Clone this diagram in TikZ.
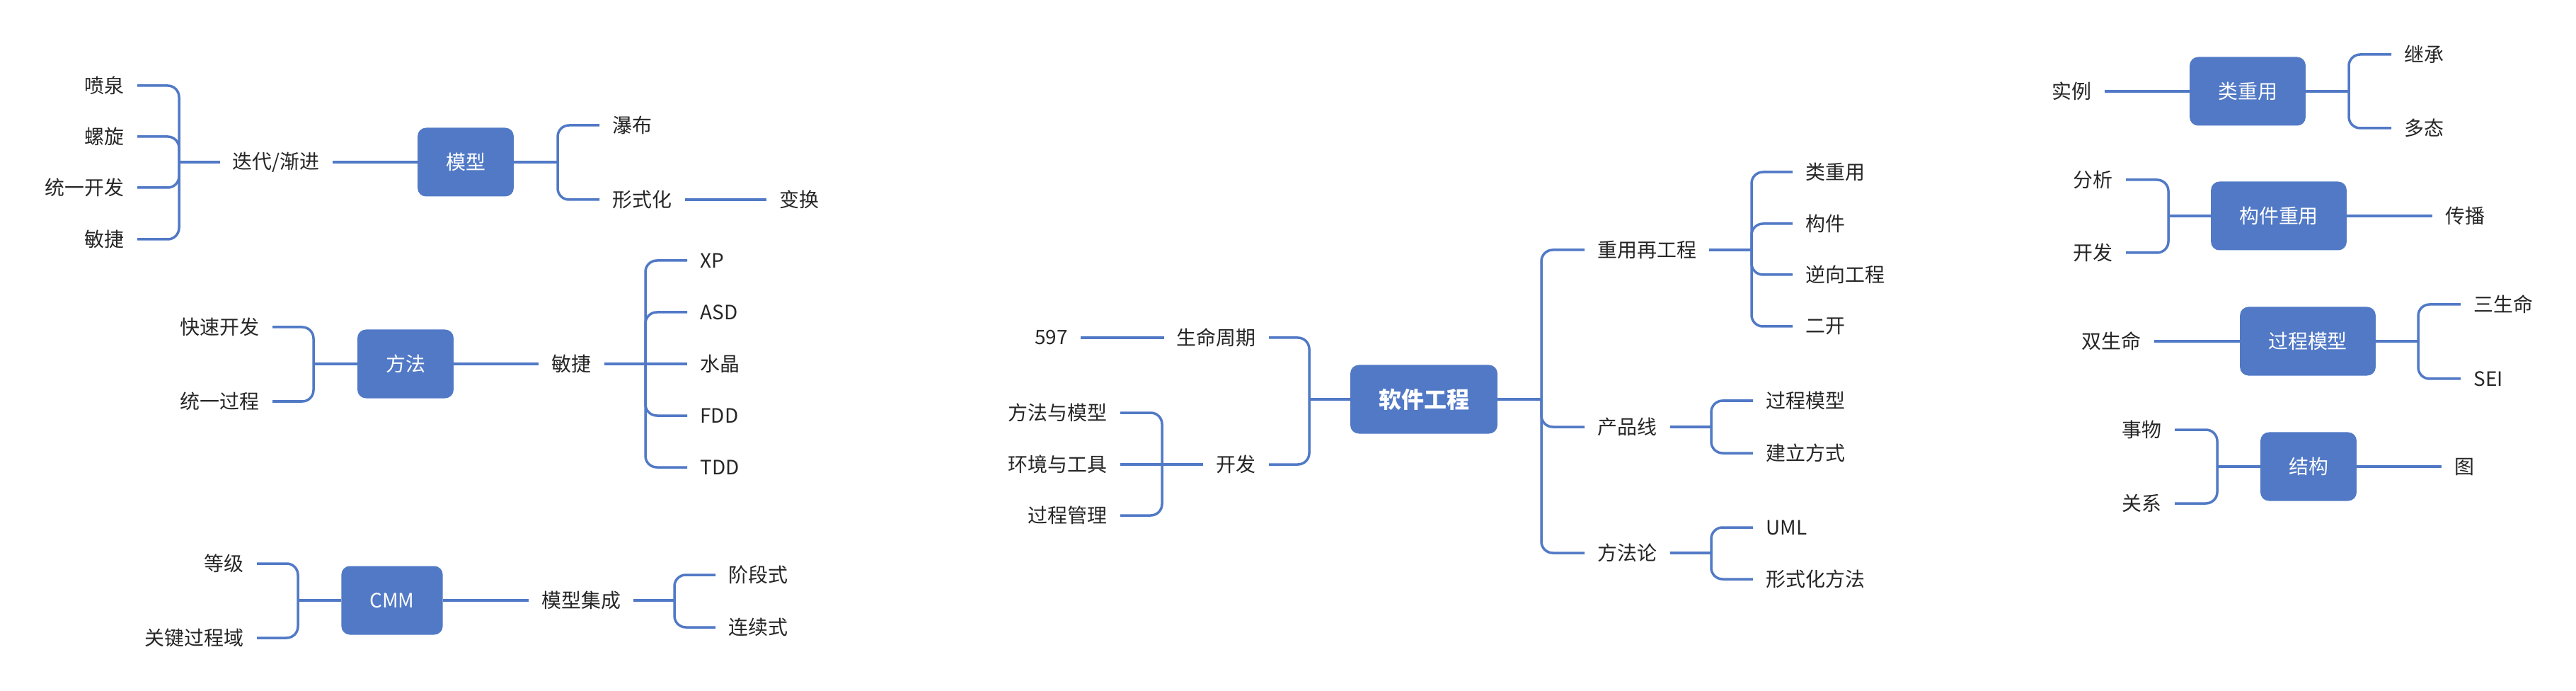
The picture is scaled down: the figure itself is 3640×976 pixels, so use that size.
\documentclass[tikz,border=0pt]{standalone}
\usepackage{fontspec}
\setmainfont{Noto Sans CJK SC}
\definecolor{mapblue}{HTML}{5179C6}
\definecolor{leaftext}{HTML}{262626}
\begin{document}
\begin{tikzpicture}
[x=0.2mm,y=-0.2mm,
box/.style={rectangle,rounded corners=2.4mm,fill=mapblue,text=white,minimum height=19.4mm,inner xsep=8mm,inner ysep=0pt,font=\fontsize{15.9pt}{18pt}\selectfont},
rootbox/.style={box,font=\fontsize{18.2pt}{20pt}\selectfont\bfseries},
plain/.style={draw=none,fill=none,text=leaftext,inner xsep=3.6mm,inner ysep=1mm,font=\fontsize{15.9pt}{18pt}\selectfont},
link/.style={draw=mapblue,line width=0.7mm},
branch/.style={link,rounded corners=3.2mm}
]
\useasboundingbox (0,0) rectangle (3640,976);

\node[rootbox] (root) at (2012,564) {软件工程};
\coordinate (rootr) at (2178,564);
\coordinate (rootl) at (1850,564);
\draw[link] (root.east) -- (rootr);
\draw[link] (root.west) -- (rootl);

\node[plain,anchor=west] (reuse) at (2239,353) {重用再工程};
\node[plain,anchor=west] (pline) at (2239,603) {产品线};
\node[plain,anchor=west] (methlog) at (2239,781) {方法论};
\draw[branch] (rootr) |- (reuse.west);
\draw[branch] (rootr) |- (pline.west);
\draw[branch] (rootr) |- (methlog.west);

\coordinate (reuser) at (2475,353);
\draw[link] (reuse.east) -- (reuser);
\node[plain,anchor=west] (clsreuse) at (2533,243) {类重用};
\node[plain,anchor=west] (comp) at (2533,316) {构件};
\node[plain,anchor=west] (reverse) at (2533,388) {逆向工程};
\node[plain,anchor=west] (second) at (2533,461) {二开};
\draw[branch] (reuser) |- (clsreuse.west);
\draw[branch] (reuser) |- (comp.west);
\draw[branch] (reuser) |- (reverse.west);
\draw[branch] (reuser) |- (second.west);

\coordinate (pliner) at (2418,603);
\draw[link] (pline.east) -- (pliner);
\node[plain,anchor=west] (procmodel) at (2477,566) {过程模型};
\node[plain,anchor=west] (buildway) at (2477,640) {建立方式};
\draw[branch] (pliner) |- (procmodel.west);
\draw[branch] (pliner) |- (buildway.west);

\coordinate (methlogr) at (2418,781);
\draw[link] (methlog.east) -- (methlogr);
\node[plain,anchor=west] (uml) at (2477,745) {UML};
\node[plain,anchor=west] (formal) at (2477,818) {形式化方法};
\draw[branch] (methlogr) |- (uml.west);
\draw[branch] (methlogr) |- (formal.west);

\node[plain,anchor=east] (life) at (1793,477) {生命周期};
\node[plain,anchor=east] (dev) at (1793,656) {开发};
\draw[branch] (rootl) |- (life.east);
\draw[branch] (rootl) |- (dev.east);
\node[plain,anchor=east] (n597) at (1527,477) {597};
\draw[link] (life.west) -- (n597.east);

\coordinate (devl) at (1642,656);
\draw[link] (dev.west) -- (devl);
\node[plain,anchor=east] (methmodel) at (1583,583) {方法与模型};
\node[plain,anchor=east] (envtool) at (1583,656) {环境与工具};
\node[plain,anchor=east] (procmgmt) at (1583,728) {过程管理};
\draw[branch] (devl) |- (methmodel.east);
\draw[link] (devl) -- (envtool.east);
\draw[branch] (devl) |- (procmgmt.east);

\node[box] (model) at (658,229) {模型};
\node[plain,anchor=east] (iter) at (470,229) {迭代/渐进};
\draw[link] (model.west) -- (iter.east);
\coordinate (iterl) at (253,229);
\draw[link] (iter.west) -- (iterl);
\node[plain,anchor=east] (fountain) at (194,121) {喷泉};
\node[plain,anchor=east] (spiral) at (194,193) {螺旋};
\node[plain,anchor=east] (unidev) at (194,265) {统一开发};
\node[plain,anchor=east] (agilem) at (194,338) {敏捷};
\draw[branch] (iterl) |- (fountain.east);
\draw[branch] (iterl) |- (spiral.east);
\draw[branch] (iterl) |- (unidev.east);
\draw[branch] (iterl) |- (agilem.east);

\coordinate (modelr) at (788,229);
\draw[link] (model.east) -- (modelr);
\node[plain,anchor=west] (waterfall) at (847,177) {瀑布};
\node[plain,anchor=west] (formalize) at (847,282) {形式化};
\draw[branch] (modelr) |- (waterfall.west);
\draw[branch] (modelr) |- (formalize.west);
\node[plain,anchor=west] (trans) at (1083,282) {变换};
\draw[link] (formalize.east) -- (trans.west);

\node[box] (method) at (573,514) {方法};
\coordinate (methodl) at (443,514);
\draw[link] (method.west) -- (methodl);
\node[plain,anchor=east] (rapid) at (385,462) {快速开发};
\node[plain,anchor=east] (unified) at (385,567) {统一过程};
\draw[branch] (methodl) |- (rapid.east);
\draw[branch] (methodl) |- (unified.east);

\node[plain,anchor=west] (agile) at (761,514) {敏捷};
\draw[link] (method.east) -- (agile.west);
\coordinate (agiler) at (912,514);
\draw[link] (agile.east) -- (agiler);
\node[plain,anchor=west] (xp) at (971,368) {XP};
\node[plain,anchor=west] (asd) at (971,441) {ASD};
\node[plain,anchor=west] (crystal) at (971,514) {水晶};
\node[plain,anchor=west] (fdd) at (971,587) {FDD};
\node[plain,anchor=west] (tdd) at (971,660) {TDD};
\draw[branch] (agiler) |- (xp.west);
\draw[branch] (agiler) |- (asd.west);
\draw[link] (agiler) -- (crystal.west);
\draw[branch] (agiler) |- (fdd.west);
\draw[branch] (agiler) |- (tdd.west);

\node[box] (cmm) at (554,848) {CMM};
\coordinate (cmml) at (421,848);
\draw[link] (cmm.west) -- (cmml);
\node[plain,anchor=east] (level) at (363,796) {等级};
\node[plain,anchor=east] (kpa) at (363,901) {关键过程域};
\draw[branch] (cmml) |- (level.east);
\draw[branch] (cmml) |- (kpa.east);

\node[plain,anchor=west] (integ) at (747,848) {模型集成};
\draw[link] (cmm.east) -- (integ.west);
\coordinate (integr) at (953,848);
\draw[link] (integ.east) -- (integr);
\node[plain,anchor=west] (staged) at (1011,812) {阶段式};
\node[plain,anchor=west] (contin) at (1011,886) {连续式};
\draw[branch] (integr) |- (staged.west);
\draw[branch] (integr) |- (contin.west);

\node[box] (clsbox) at (3176,129) {类重用};
\node[plain,anchor=east] (inst) at (2974,129) {实例};
\draw[link] (clsbox.west) -- (inst.east);
\coordinate (clsr) at (3319,129);
\draw[link] (clsbox.east) -- (clsr);
\node[plain,anchor=west] (inherit) at (3379,77) {继承};
\node[plain,anchor=west] (poly) at (3379,181) {多态};
\draw[branch] (clsr) |- (inherit.west);
\draw[branch] (clsr) |- (poly.west);

\node[box] (compbox) at (3220,305) {构件重用};
\coordinate (compl) at (3064,305);
\draw[link] (compbox.west) -- (compl);
\node[plain,anchor=east] (analyse) at (3004,254) {分析};
\node[plain,anchor=east] (develop) at (3004,357) {开发};
\draw[branch] (compl) |- (analyse.east);
\draw[branch] (compl) |- (develop.east);
\node[plain,anchor=west] (spread) at (3437,305) {传播};
\draw[link] (compbox.east) -- (spread.west);

\node[box] (procbox) at (3261,482) {过程模型};
\node[plain,anchor=east] (dual) at (3044,482) {双生命};
\draw[link] (procbox.west) -- (dual.east);
\coordinate (procr) at (3417,482);
\draw[link] (procbox.east) -- (procr);
\node[plain,anchor=west] (triple) at (3477,430) {三生命};
\node[plain,anchor=west] (sei) at (3477,535) {SEI};
\draw[branch] (procr) |- (triple.west);
\draw[branch] (procr) |- (sei.west);

\node[box] (structbox) at (3262,659) {结构};
\coordinate (structl) at (3133,659);
\draw[link] (structbox.west) -- (structl);
\node[plain,anchor=east] (thing) at (3073,607) {事物};
\node[plain,anchor=east] (relation) at (3073,711) {关系};
\draw[branch] (structl) |- (thing.east);
\draw[branch] (structl) |- (relation.east);
\node[plain,anchor=west] (graph) at (3450,659) {图};
\draw[link] (structbox.east) -- (graph.west);
\end{tikzpicture}
\end{document}
